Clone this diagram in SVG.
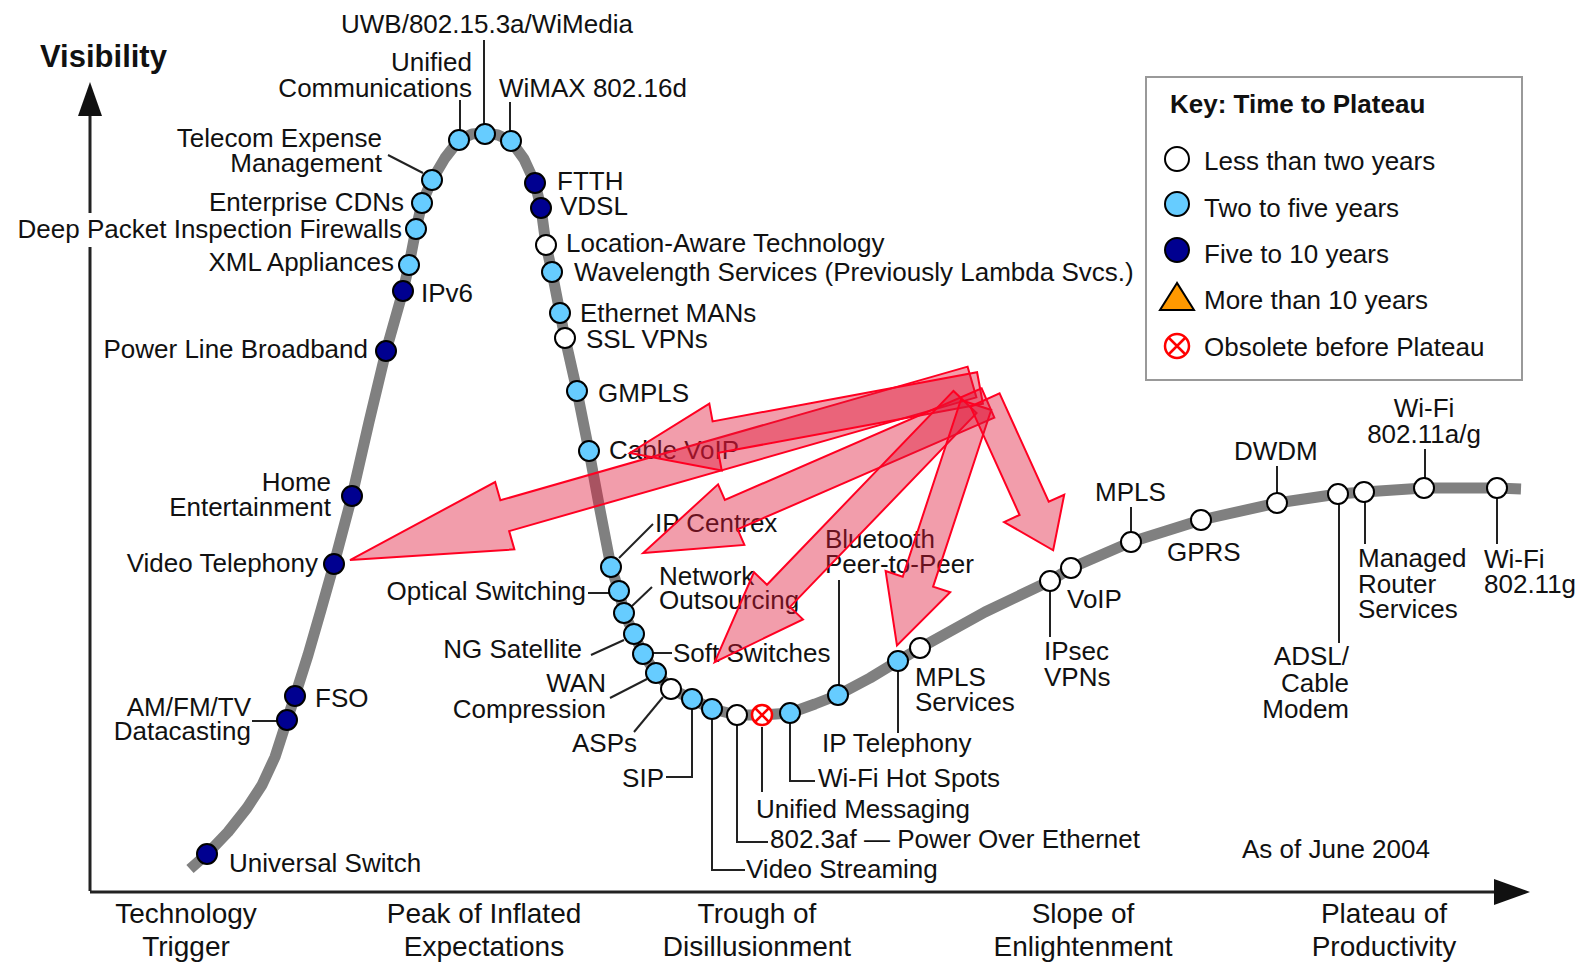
<svg xmlns="http://www.w3.org/2000/svg" width="1583" height="965" viewBox="0 0 1583 965">
<style>
text{font-family:"Liberation Sans",Arial,Helvetica,sans-serif;font-size:26px;fill:#111}
.e{text-anchor:end}
.m{text-anchor:middle}
.b{font-size:28px}
.ld{stroke:#222;stroke-width:2;fill:none}
.ax{stroke:#222;stroke-width:3;fill:none}
.w{fill:#fff;stroke:#000;stroke-width:2}
.l{fill:#66ccff;stroke:#000;stroke-width:2}
.d{fill:#000090;stroke:#000;stroke-width:2}
.x{fill:#fff;stroke:#ff0000;stroke-width:2.5}
.arr{fill:#e01538;fill-opacity:0.42;stroke:#ff0022;stroke-width:2;stroke-linejoin:miter}
</style>
<rect width="1583" height="965" fill="#fff"/>
<g id="axes">
<path class="ax" d="M90,891 V247 M90,213 V112"/>
<polygon points="90,82 78,116 102,116" fill="#111"/>
<path class="ax" d="M90,892 H1496"/>
<polygon points="1530,892 1494,879 1494,905" fill="#111"/>
<text x="40" y="67" style="font-weight:bold;font-size:31px">Visibility</text>
</g>
<g id="phases">
<text class="m b" x="186" y="923">Technology</text><text class="m b" x="186" y="956">Trigger</text>
<text class="m b" x="484" y="923">Peak of Inflated</text><text class="m b" x="484" y="956">Expectations</text>
<text class="m b" x="757" y="923">Trough of</text><text class="m b" x="757" y="956">Disillusionment</text>
<text class="m b" x="1083" y="923">Slope of</text><text class="m b" x="1083" y="956">Enlightenment</text>
<text class="m b" x="1384" y="923">Plateau of</text><text class="m b" x="1384" y="956">Productivity</text>
<text x="1242" y="858">As of June 2004</text>
</g>
<g id="curve">
<polyline fill="none" stroke="#808080" stroke-width="11" stroke-linejoin="round" points="190,869 207,854 228,832 247,808 262,785 275,757 287,720 295,696 308,655 321,610 334,564 352,496 369,422 386,351 403,291 409,265 416,229 422,203 432,180 445,158 459,140 472,134 485,133 498,135 511,141 524,159 535,183 541,208 546,245 552,272 560,313 565,338 577,391 589,451 600,510 611,567 619,591 624,613 634,634 643,654 656,673 671,689 692,699 712,709 737,715 762,715 790,713 815,704 838,695 870,678 898,661 920,648 985,612 1050,581 1071,568 1131,542 1201,520 1277,503 1338,494 1364,492 1424,488 1497,488 1521,489"/>
</g>
<g id="connectors">
<path class="ld" d="M252,721 H278"/>
<path class="ld" d="M388,155 L423,173"/>
<path class="ld" d="M460,100 V130"/>
<path class="ld" d="M484,40 V124"/>
<path class="ld" d="M510,102 V131"/>
<path class="ld" d="M653,524 L619,558"/>
<path class="ld" d="M652,587 L632,606"/>
<path class="ld" d="M588,593 H609"/>
<path class="ld" d="M591,655 L624,640"/>
<path class="ld" d="M653,653 H672"/>
<path class="ld" d="M610,698 L647,679"/>
<path class="ld" d="M634,732 L663,697"/>
<path class="ld" d="M666,777 H692 V709"/>
<path class="ld" d="M712,719 V870 H745"/>
<path class="ld" d="M737,725 V842 H768"/>
<path class="ld" d="M762,727 V792"/>
<path class="ld" d="M790,723 V781 H815"/>
<path class="ld" d="M898,671 V733"/>
<path class="ld" d="M839,580 V685"/>
<path class="ld" d="M1050,591 V637"/>
<path class="ld" d="M1131,507 V532"/>
<path class="ld" d="M1277,466 V493"/>
<path class="ld" d="M1425,449 V478"/>
<path class="ld" d="M1365,502 V544"/>
<path class="ld" d="M1339,504 V643"/>
<path class="ld" d="M1497,498 V544"/>
</g>
<g id="n-universal-switch"><circle class="d" cx="207" cy="854" r="10"/><text x="229" y="872">Universal Switch</text></g>
<g id="n-amfmtv"><circle class="d" cx="287" cy="720" r="10"/><text class="e" x="251" y="716">AM/FM/TV</text><text class="e" x="251" y="740">Datacasting</text></g>
<g id="n-fso"><circle class="d" cx="295" cy="696" r="10"/><text x="315" y="707">FSO</text></g>
<g id="n-video-telephony"><circle class="d" cx="334" cy="564" r="10"/><text class="e" x="318" y="572">Video Telephony</text></g>
<g id="n-home-ent"><circle class="d" cx="352" cy="496" r="10"/><text class="e" x="331" y="491">Home</text><text class="e" x="331" y="516">Entertainment</text></g>
<g id="n-plb"><circle class="d" cx="386" cy="351" r="10"/><text class="e" x="368" y="358">Power Line Broadband</text></g>
<g id="n-ipv6"><circle class="d" cx="403" cy="291" r="10"/><text x="421" y="302">IPv6</text></g>
<g id="n-xml"><circle class="l" cx="409" cy="265" r="10"/><text class="e" x="394" y="271">XML Appliances</text></g>
<g id="n-dpi"><circle class="l" cx="416" cy="229" r="10"/><text class="e" x="402" y="238">Deep Packet Inspection Firewalls</text></g>
<g id="n-cdn"><circle class="l" cx="422" cy="203" r="10"/><text class="e" x="404" y="211">Enterprise CDNs</text></g>
<g id="n-tem"><circle class="l" cx="432" cy="180" r="10"/><text class="e" x="382" y="147">Telecom Expense</text><text class="e" x="382" y="172">Management</text></g>
<g id="n-uc"><circle class="l" cx="459" cy="140" r="10"/><text class="e" x="472" y="71">Unified</text><text class="e" x="472" y="97">Communications</text></g>
<g id="n-uwb"><circle class="l" cx="485" cy="134" r="10"/><text x="341" y="33">UWB/802.15.3a/WiMedia</text></g>
<g id="n-wimax"><circle class="l" cx="511" cy="141" r="10"/><text x="499" y="97">WiMAX 802.16d</text></g>
<g id="n-ftth"><circle class="d" cx="535" cy="183" r="10"/><text x="557" y="190">FTTH</text></g>
<g id="n-vdsl"><circle class="d" cx="541" cy="208" r="10"/><text x="560" y="215">VDSL</text></g>
<g id="n-location"><circle class="w" cx="546" cy="245" r="10"/><text x="566" y="252">Location-Aware Technology</text></g>
<g id="n-wavelength"><circle class="l" cx="552" cy="272" r="10"/><text x="574" y="281">Wavelength Services (Previously Lambda Svcs.)</text></g>
<g id="n-eth-mans"><circle class="l" cx="560" cy="313" r="10"/><text x="580" y="322">Ethernet MANs</text></g>
<g id="n-ssl"><circle class="w" cx="565" cy="338" r="10"/><text x="586" y="348">SSL VPNs</text></g>
<g id="n-gmpls"><circle class="l" cx="577" cy="391" r="10"/><text x="598" y="402">GMPLS</text></g>
<g id="n-cable-voip"><circle class="l" cx="589" cy="451" r="10"/><text x="609" y="459">Cable VoIP</text></g>
<g id="n-ip-centrex"><circle class="l" cx="611" cy="567" r="10"/><text x="655" y="532">IP Centrex</text></g>
<g id="n-optical"><circle class="l" cx="619" cy="591" r="10"/><text class="e" x="586" y="600">Optical Switching</text></g>
<g id="n-network-out"><circle class="l" cx="624" cy="613" r="10"/><text x="659" y="585">Network</text><text x="659" y="609">Outsourcing</text></g>
<g id="n-ng-sat"><circle class="l" cx="634" cy="634" r="10"/><text class="e" x="582" y="658">NG Satellite</text></g>
<g id="n-soft"><circle class="l" cx="643" cy="654" r="10"/><text x="673" y="662">Soft Switches</text></g>
<g id="n-wan"><circle class="l" cx="656" cy="673" r="10"/><text class="e" x="606" y="692">WAN</text><text class="e" x="606" y="718">Compression</text></g>
<g id="n-asps"><circle class="w" cx="671" cy="689" r="10"/><text class="e" x="637" y="752">ASPs</text></g>
<g id="n-sip"><circle class="l" cx="692" cy="699" r="10"/><text class="e" x="664" y="787">SIP</text></g>
<g id="n-video-streaming"><circle class="l" cx="712" cy="709" r="10"/><text x="746" y="878">Video Streaming</text></g>
<g id="n-poe"><circle class="w" cx="737" cy="715" r="10"/><text x="770" y="848">802.3af — Power Over Ethernet</text></g>
<g id="n-unified-msg"><circle class="x" cx="762" cy="715" r="10"/><path d="M755,708 L769,722 M769,708 L755,722" stroke="#ff0000" stroke-width="2.5"/><text x="756" y="818">Unified Messaging</text></g>
<g id="n-wifi-hot"><circle class="l" cx="790" cy="713" r="10"/><text x="818" y="787">Wi-Fi Hot Spots</text></g>
<g id="n-bluetooth"><circle class="l" cx="838" cy="695" r="10"/><text x="825" y="548">Bluetooth</text><text x="825" y="573">Peer-to-Peer</text></g>
<g id="n-ip-tel"><circle class="l" cx="898" cy="661" r="10"/><text x="822" y="752">IP Telephony</text></g>
<g id="n-mpls-serv"><circle class="w" cx="920" cy="648" r="10"/><text x="915" y="686">MPLS</text><text x="915" y="711">Services</text></g>
<g id="n-ipsec"><circle class="w" cx="1050" cy="581" r="10"/><text x="1044" y="660">IPsec</text><text x="1044" y="686">VPNs</text></g>
<g id="n-voip"><circle class="w" cx="1071" cy="568" r="10"/><text x="1067" y="608">VoIP</text></g>
<g id="n-mpls"><circle class="w" cx="1131" cy="542" r="10"/><text x="1095" y="501">MPLS</text></g>
<g id="n-gprs"><circle class="w" cx="1201" cy="520" r="10"/><text x="1167" y="561">GPRS</text></g>
<g id="n-dwdm"><circle class="w" cx="1277" cy="503" r="10"/><text x="1234" y="460">DWDM</text></g>
<g id="n-adsl"><circle class="w" cx="1338" cy="494" r="10"/><text class="e" x="1349" y="665">ADSL/</text><text class="e" x="1349" y="692">Cable</text><text class="e" x="1349" y="718">Modem</text></g>
<g id="n-managed"><circle class="w" cx="1364" cy="492" r="10"/><text x="1358" y="567">Managed</text><text x="1358" y="593">Router</text><text x="1358" y="618">Services</text></g>
<g id="n-wifi-ag"><circle class="w" cx="1424" cy="488" r="10"/><text class="m" x="1424" y="417">Wi-Fi</text><text class="m" x="1424" y="443">802.11a/g</text></g>
<g id="n-wifi-g"><circle class="w" cx="1497" cy="488" r="10"/><text x="1484" y="568">Wi-Fi</text><text x="1484" y="593">802.11g</text></g>
<g id="legend">
<rect x="1146" y="77" width="376" height="303" fill="#fff" stroke="#999" stroke-width="2"/>
<text x="1170" y="113" style="font-weight:bold">Key: Time to Plateau</text>
<circle class="w" cx="1177" cy="159" r="12"/><text x="1204" y="170">Less than two years</text>
<circle class="l" cx="1177" cy="204" r="12"/><text x="1204" y="217">Two to five years</text>
<circle class="d" cx="1177" cy="250" r="12"/><text x="1204" y="263">Five to 10 years</text>
<polygon points="1177,283 1160,310 1194,310" fill="#ff9900" stroke="#000" stroke-width="2"/><text x="1204" y="309">More than 10 years</text>
<circle class="x" cx="1177" cy="346" r="12"/><path d="M1169,338 L1185,354 M1185,338 L1169,354" stroke="#ff0000" stroke-width="2.5"/><text x="1204" y="356">Obsolete before Plateau</text>
</g>
<g id="arrows">
<polygon class="arr" transform="translate(972,382) rotate(164.03)" points="0,-16 486,-16 486,-35 647,0 486,35 486,16 0,16"/>
<polygon class="arr" transform="translate(980,388) rotate(169.48)" points="0,-16 269,-16 269,-34 356,0 269,34 269,16 0,16"/>
<polygon class="arr" transform="translate(988,403) rotate(156.5)" points="0,-16 280,-16 280,-33 376,0 280,33 280,16 0,16"/>
<polygon class="arr" transform="translate(965,402) rotate(133.9)" points="0,-16 269,-16 269,-34 361,0 269,34 269,16 0,16"/>
<polygon class="arr" transform="translate(976,405) rotate(108.2)" points="0,-16 186,-16 186,-34 253,0 186,34 186,16 0,16"/>
<polygon class="arr" transform="translate(985,400) rotate(65.6)" points="0,-16 119,-16 119,-33 165,0 119,33 119,16 0,16"/>
</g>
</svg>
